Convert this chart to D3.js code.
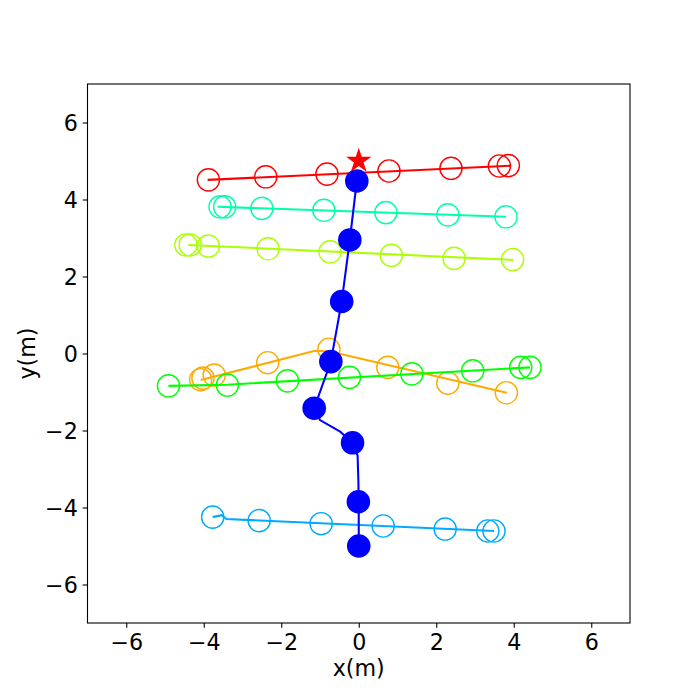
<!DOCTYPE html>
<html>
<head>
<meta charset="utf-8">
<script src="https://cdn.jsdelivr.net/npm/d3@7"></script>
<style>
  body { margin: 0; background: #fff; }
  svg text { font-family: 'DejaVu Sans', sans-serif; fill: #000; }
</style>
</head>
<body>
<div id="chart"></div>
<script>
(function () {
  'use strict';

  // obstacle trajectories (circles = sampled positions, path = track)
  var obstacleColors = ['#ff0000', '#00ffaa', '#aaff00', '#ffaa00', '#00ff00', '#00aaff'];

  var circleX = [
    [-3.88, -2.40, -0.82, 0.78, 2.38, 3.63, 3.86],
    [-3.58, -3.46, -2.50, -0.90, 0.70, 2.30, 3.80],
    [-4.46, -4.35, -3.88, -2.34, -0.74, 0.84, 2.46, 3.97],
    [-4.08, -4.02, -3.73, -2.35, -0.77, 0.75, 2.30, 3.81],
    [-4.91, -3.39, -1.84, -0.24, 1.37, 2.94, 4.18, 4.42],
    [-3.77, -2.57, -0.97, 0.63, 2.23, 3.33, 3.49]
  ];
  var circleY = [
    [4.51, 4.59, 4.66, 4.74, 4.81, 4.87, 4.88],
    [3.81, 3.81, 3.77, 3.72, 3.66, 3.60, 3.55],
    [2.82, 2.82, 2.79, 2.72, 2.64, 2.55, 2.47, 2.44],
    [-0.68, -0.64, -0.56, -0.24, 0.11, -0.36, -0.77, -1.02],
    [-0.84, -0.82, -0.71, -0.62, -0.53, -0.45, -0.36, -0.36],
    [-4.25, -4.34, -4.42, -4.48, -4.56, -4.61, -4.61]
  ];
  var pathX = [
    [-3.90, 3.93],
    [-3.64, 3.80],
    [-4.40, 3.99],
    [-4.08, -1.13, -0.74, 3.82],
    [-4.91, -3.39, 4.42],
    [-3.77, -3.54, -3.41, 3.49]
  ];
  var pathY = [
    [4.51, 4.88],
    [3.81, 3.55],
    [2.82, 2.43],
    [-0.69, 0.07, 0.05, -1.02],
    [-0.84, -0.81, -0.36],
    [-4.25, -4.20, -4.30, -4.61]
  ];

  // robot
  var robotPathX = [0.00, 0.00, -0.01, -0.03, -0.16, -0.48, -1.00, -1.15, -0.72, -0.44, -0.23, -0.05];
  var robotPathY = [-5.00, -3.85, -3.30, -2.65, -2.32, -2.03, -1.73, -1.42, -0.21, 1.35, 2.95, 4.48];
  var robotDotX = [0.00, -0.01, -0.16, -1.15, -0.72, -0.44, -0.23, -0.05];
  var robotDotY = [-5.00, -3.85, -2.32, -1.42, -0.21, 1.35, 2.95, 4.48];

  var goalX = [0];
  var goalY = [5];

  var xTicks = [-6, -4, -2, 0, 2, 4, 6];
  var yTicks = [-6, -4, -2, 0, 2, 4, 6];

  var width = 700, height = 700,
  left = 87.5, right = 630, top = 84, bottom = 623,
  fontSize = 22.2;

  var svg = d3.select('#chart').append('svg')
  .attr('width', width)
  .attr('height', height);

  var x = d3.scaleLinear().domain([-7, 7]).range([left, right]);
  var y = d3.scaleLinear().domain([-7, 7]).range([bottom, top]);

  var fmt = function (d) { return d < 0 ? '\u2212' + Math.abs(d) : '' + d; };

  var line = d3.line()
  .x(function (d) { return x(d[0]); })
  .y(function (d) { return y(d[1]); });

  var plot = svg.append('g');

  obstacleColors.forEach(function (c, i) {
    var pts = d3.zip(pathX[i], pathY[i]);
    plot.append('path')
    .attr('d', line(pts))
    .attr('fill', 'none')
    .attr('stroke', c)
    .attr('stroke-width', 2.08);

    plot.selectAll('.obs' + i)
    .data(d3.zip(circleX[i], circleY[i]))
    .enter()
    .append('circle')
    .attr('class', 'obs' + i)
    .attr('cx', function (d) { return x(d[0]); })
    .attr('cy', function (d) { return y(d[1]); })
    .attr('r', 11.1)
    .attr('fill', 'none')
    .attr('stroke', c)
    .attr('stroke-width', 1.39);
  });

  plot.append('path')
  .attr('d', line(d3.zip(robotPathX, robotPathY)))
  .attr('fill', 'none')
  .attr('stroke', '#0000ff')
  .attr('stroke-width', 2.08);

  plot.selectAll('.robot')
  .data(d3.zip(robotDotX, robotDotY))
  .enter()
  .append('circle')
  .attr('class', 'robot')
  .attr('cx', function (d) { return x(d[0]); })
  .attr('cy', function (d) { return y(d[1]); })
  .attr('r', 11.1)
  .attr('fill', '#0000ff')
  .attr('stroke', '#0000ff')
  .attr('stroke-width', 1.39);

  // star marker shape (outer r, inner r * 0.382)
  function starPath(r) {
    var p = [], k, a, rr;
    for (k = 0; k < 10; k++) {
      a = Math.PI / 5 * k;
      rr = k % 2 ? r * 0.381966 : r;
      p.push([rr * Math.sin(a), -rr * Math.cos(a)]);
    }
    return 'M' + p.join('L') + 'Z';
  }

  plot.selectAll('.goal')
  .data(d3.zip(goalX, goalY))
  .enter()
  .append('path')
  .attr('class', 'goal')
  .attr('d', starPath(11.1))
  .attr('transform', function (d) { return 'translate(' + [x(d[0]), y(d[1])] + ')'; })
  .attr('fill', '#ff0000')
  .attr('stroke', '#ff0000')
  .attr('stroke-width', 1.39)
  .attr('stroke-linejoin', 'miter');

  // axes
  var xAxis = svg.append('g')
  .attr('transform', 'translate(0,' + bottom + ')')
  .call(d3.axisBottom(x).tickValues(xTicks).tickFormat(fmt).tickSize(4.86).tickPadding(4.86));

  var yAxis = svg.append('g')
  .attr('transform', 'translate(' + left + ',0)')
  .call(d3.axisLeft(y).tickValues(yTicks).tickFormat(fmt).tickSize(4.86).tickPadding(4.86));

  [xAxis, yAxis].forEach(function (g) {
    g.select('.domain').remove();
    g.selectAll('.tick line').attr('stroke', '#000').attr('stroke-width', 1.1);
    g.selectAll('.tick text')
    .attr('font-family', 'DejaVu Sans, sans-serif')
    .attr('font-size', fontSize)
    .attr('fill', '#000');
  });
  xAxis.selectAll('.tick text').attr('dy', null).attr('y', 26.6);
  yAxis.selectAll('.tick text').attr('dy', '0.36em');

  svg.append('rect')
  .attr('x', left)
  .attr('y', top)
  .attr('width', right - left)
  .attr('height', bottom - top)
  .attr('fill', 'none')
  .attr('stroke', '#000')
  .attr('stroke-width', 1.1);

  svg.append('text')
  .attr('x', (left + right) / 2)
  .attr('y', 676)
  .attr('text-anchor', 'middle')
  .attr('font-size', fontSize)
  .text('x(m)');

  svg.append('text')
  .attr('transform', 'translate(35,' + ((top + bottom) / 2) + ') rotate(-90)')
  .attr('text-anchor', 'middle')
  .attr('font-size', fontSize)
  .text('y(m)');
}());
</script>
</body>
</html>
